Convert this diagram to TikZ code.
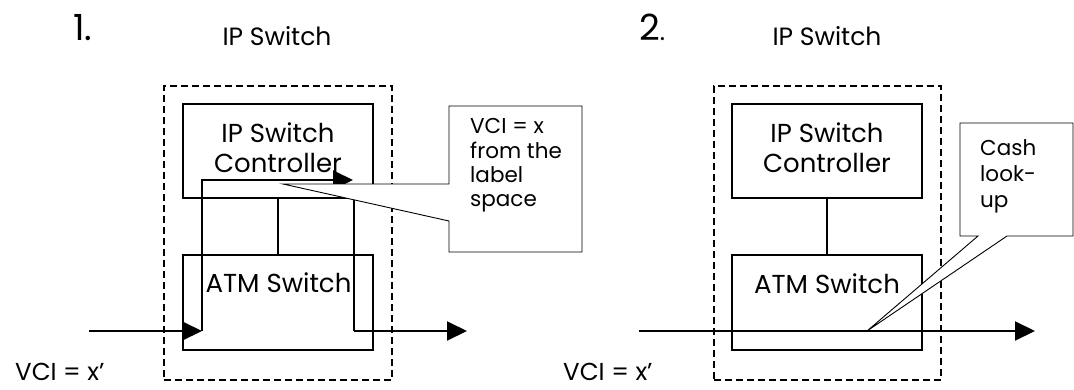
\documentclass[tikz,border=0pt]{standalone}
\usepackage{fontspec}
\setmainfont{Poppins}
\usetikzlibrary{arrows.meta}
\tikzset{
  x=1pt, y=-1pt,
  boxnode/.style={draw, line width=2pt, minimum width=190pt, inner sep=0pt},
  dashbox/.style={draw, line width=1.8pt, dash pattern=on 7pt off 4pt, minimum width=228pt, minimum height=294pt, inner sep=0pt},
  wire/.style={line width=2pt},
  link/.style={line width=1.6pt},
  bigarrow/.style={line width=2pt, -{Triangle[length=20pt,width=19pt]}},
  callout/.style={draw, fill=white, line width=0.9pt, line join=miter},
  boxtext/.style={font=\fontsize{26}{30}\selectfont, anchor=base, inner sep=0pt},
  titletext/.style={font=\fontsize{25}{30}\selectfont, anchor=base, inner sep=0pt},
  numtext/.style={font=\fontsize{36}{40}\selectfont, anchor=base west, inner sep=0pt},
  calltext/.style={font=\fontsize{21.5}{24}\selectfont, anchor=base west, inner sep=0pt},
  vcitext/.style={font=\fontsize{24.5}{28}\selectfont, anchor=base west, inner sep=0pt},
}
\begin{document}
\begin{tikzpicture}
\useasboundingbox (0,0) rectangle (1074,389);
% ---------------- Panel 1 ----------------
\node[numtext] (n1) at (73,40) {1.};
\node[titletext] (t1) at (277,45) {IP Switch};
\node[dashbox] (swA) at (278,233) {};
\node[boxnode, minimum height=94pt] (ctrlA) at (278,151) {};
\node[boxnode, minimum height=95pt] (atmA) at (278,302.5) {};
\node[boxtext] (ctrlA1) at (278,142) {IP Switch};
\node[boxtext] (ctrlA2) at (278,172) {Controller};
\node[boxtext] (atmAt) at (278.5,292) {ATM Switch};
\draw[link] (ctrlA.south) -- (atmA.north);
\coordinate (inA) at (89,331);
\coordinate (upA) at (202,331);
\coordinate (topLA) at (202,180);
\coordinate (topRA) at (353,180);
\coordinate (downA) at (354,186);
\coordinate (botRA) at (354,331);
\coordinate (outA) at (467,331);
\draw[bigarrow] (inA) -- (upA);
\draw[wire, -{Triangle[length=20pt,width=19pt]}] (upA) -- (topLA) -- (topRA);
\draw[wire] (downA) -- (botRA);
\draw[bigarrow] (botRA) -- (outA);
\draw[callout] (449,106) -- (582,106) -- (582,252) -- (449,252) -- (449,221) -- (283,184) -- (449,184) -- cycle;
\node[calltext] (cA1) at (470,133) {VCI = x};
\node[calltext] (cA2) at (470,158) {from the};
\node[calltext] (cA3) at (470,182) {label};
\node[calltext] (cA4) at (470,206) {space};
\node[vcitext] (vA) at (15,380) {VCI = x’};
% ---------------- Panel 2 ----------------
\node[numtext] (n2) at (639,40) {2\fontsize{25}{30}\selectfont.};
\node[titletext] (t2) at (827,45) {IP Switch};
\node[dashbox, minimum width=227pt] (swB) at (827.5,233) {};
\node[boxnode, minimum height=94pt] (ctrlB) at (827,151) {};
\node[boxnode, minimum height=95pt] (atmB) at (827,302.5) {};
\node[boxtext] (ctrlB1) at (827,142) {IP Switch};
\node[boxtext] (ctrlB2) at (827,172) {Controller};
\node[boxtext] (atmBt) at (827,293) {ATM Switch};
\draw[link] (ctrlB.south) -- (atmB.north);
\coordinate (inB) at (639,331);
\coordinate (outB) at (1035,331);
\draw[bigarrow] (inB) -- (outB);
\draw[callout] (960,123) -- (1073,123) -- (1073,236) -- (1007,236) -- (867,331) -- (978,236) -- (960,236) -- cycle;
\node[calltext] (cB1) at (980,155) {Cash};
\node[calltext] (cB2) at (980,181) {look-};
\node[calltext] (cB3) at (980,207) {up};
\node[vcitext] (vB) at (563,380) {VCI = x’};
\end{tikzpicture}
\end{document}
